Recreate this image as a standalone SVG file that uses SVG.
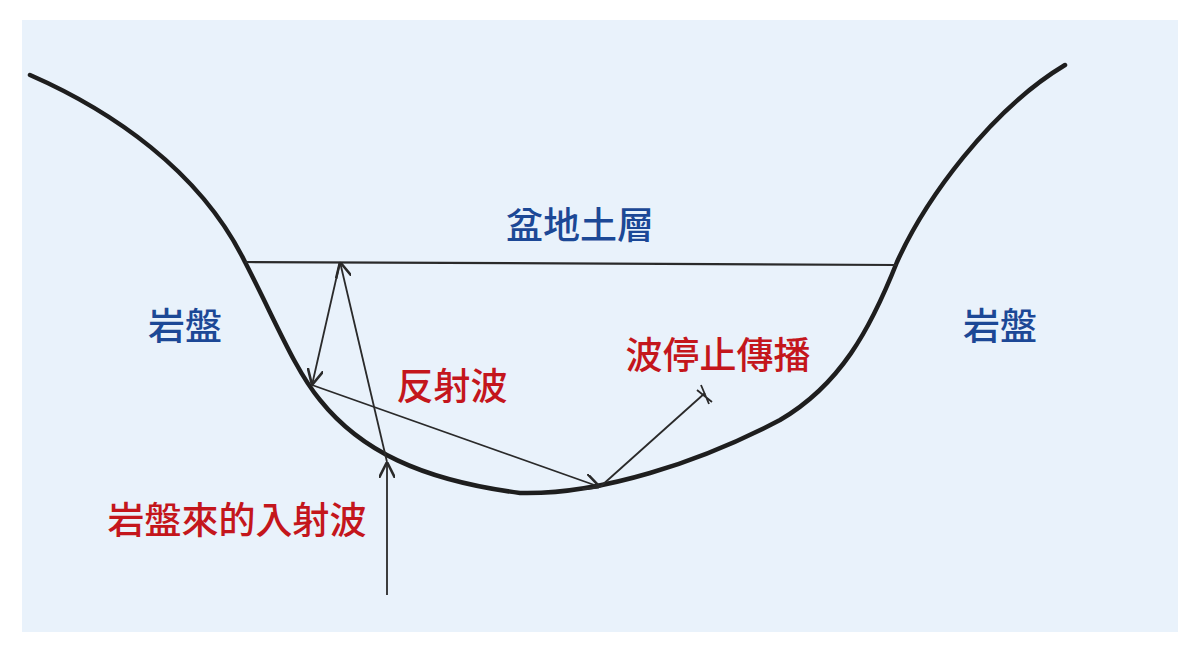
<svg xmlns="http://www.w3.org/2000/svg" width="1200" height="649" viewBox="0 0 1200 649">
<style>
.b{fill:#1c4896;font-family:"Noto Sans CJK TC","Noto Sans CJK SC",sans-serif;font-size:37px;font-weight:500}
.r{fill:#c4161c;font-family:"Noto Sans CJK TC","Noto Sans CJK SC",sans-serif;font-size:37px;font-weight:500}
.ray{stroke:#2a2a2a;stroke-width:1.8;fill:none}
</style>
<defs><marker id="a" viewBox="0 0 10 10" refX="10" refY="5" markerWidth="9" markerHeight="9" orient="auto-start-reverse"><path d="M0,0 L10,5 L0,10" fill="none" stroke="#2a2a2a" stroke-width="1.6"/></marker></defs>
<rect width="1200" height="649" fill="#fff"/>
<rect x="22" y="20" width="1156" height="612" fill="#e9f2fb"/>
<g id="basin"><path d="M30,75 C110,110 200,170 245,262 C275,320 295,370 320,400 C360,450 420,480 520,493 C600,495 700,462 780,420 C840,385 870,330 897,262 C925,200 990,110 1065,65" fill="none" stroke="#1e1e1e" stroke-width="4.5" stroke-linecap="round"/></g>
<g id="surface"><path d="M245,262 L897,265" stroke="#2a2a2a" stroke-width="2.2"/></g>
<g id="connectors">
<path class="ray" d="M387,595 L387,462" marker-end="url(#a)"/>
<path class="ray" d="M387,462 L340,262" marker-end="url(#a)"/>
<path class="ray" d="M340,262 L312,385" marker-end="url(#a)"/>
<path class="ray" d="M312,385 L600,487" marker-end="url(#a)"/>
<path class="ray" d="M600,487 L705,393"/>
<path class="ray" d="M697,390 L712,402 M701,385 L709,404"/>
</g>
<g id="labels">
<text class="b" x="580" y="239" text-anchor="middle">盆地土層</text>
<text class="b" x="185" y="340" text-anchor="middle">岩盤</text>
<text class="b" x="1000" y="340" text-anchor="middle">岩盤</text>
<text class="r" x="452" y="400" text-anchor="middle">反射波</text>
<text class="r" x="718" y="369" text-anchor="middle">波停止傳播</text>
<text class="r" x="237" y="534" text-anchor="middle">岩盤來的入射波</text>
</g>
</svg>
